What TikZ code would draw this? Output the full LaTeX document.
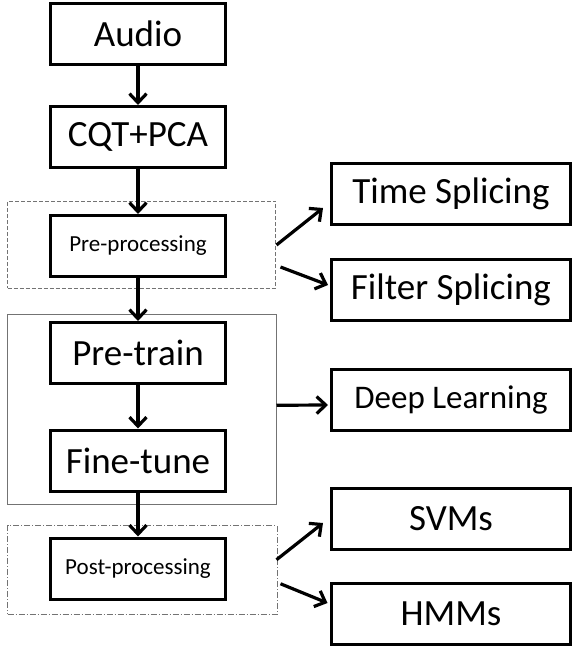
\documentclass[tikz,border=0pt]{standalone}
\usepackage{fontspec}
\setmainfont{Carlito}
\usetikzlibrary{arrows.meta,calc}
\tikzset{
  box/.style={draw=black, line width=3pt, fill=white, inner sep=0pt, minimum width=175pt, minimum height=61pt, font=\fontsize{37}{41}\selectfont},
  smallbox/.style={box, font=\fontsize{23}{27}\selectfont},
  rbox/.style={box, minimum width=239pt},
  grp/.style={draw=black!55, line width=1pt, inner sep=0pt},
  arr/.style={line width=3.2pt, -{Straight Barb[length=9pt,width=17pt]}}
}
\begin{document}
\begin{tikzpicture}[x=1pt,y=-1pt]
\useasboundingbox (0,0) rectangle (573,648);
% group boxes
\node[grp, dashed, dash pattern=on 4pt off 2pt, minimum width=268pt, minimum height=87pt] (pregrp) at (141.5,244.5) {};
\node[grp, minimum width=268.5pt, minimum height=190.5pt] (dlgrp) at (141.75,409.25) {};
\node[grp, dash pattern=on 6pt off 2pt on 1pt off 2pt, minimum width=269.5pt, minimum height=88.5pt] (postgrp) at (142.25,569.75) {};
% main chain
\node[box] (audio) at (138,34) {Audio};
\node[box] (cqt) at (138,137) {CQT+PCA};
\node[smallbox] (pre) at (138,246) {Pre-processing};
\node[box] (pretrain) at (138,353) {Pre-train};
\node[box] (finetune) at (138,460.5) {Fine-tune};
\node[smallbox] (post) at (138,568.5) {Post-processing};
% right boxes
\node[rbox] (time) at (451,194) {Time Splicing};
\node[rbox] (filter) at (451,289.5) {Filter Splicing};
\node[rbox, font=\fontsize{33}{37}\selectfont] (deep) at (451,400) {Deep Learning};
\node[rbox] (svm) at (451,519) {SVMs};
\node[rbox] (hmm) at (451,614) {HMMs};
% vertical arrows
\draw[arr] (audio.south) -- (cqt.north);
\draw[arr] (cqt.south) -- (pre.north);
\draw[arr] (pre.south) -- (pretrain.north);
\draw[arr] (pretrain.south) -- (finetune.north);
\draw[arr] (finetune.south) -- (post.north);
% side arrows
\draw[arr] ($(pregrp.east)+(0.5,0.5)$) -- ($(time.west)+(-7,14)$);
\draw[arr] ($(pregrp.east)+(4.5,22.5)$) -- ($(filter.west)+(-2,-4.5)$);
\draw[arr] ($(dlgrp.east)+(0,-4)$) -- ($(deep.west)+(-2,5)$);
\draw[arr] ($(postgrp.east)+(-1,-10)$) -- ($(svm.west)+(-7,4)$);
\draw[arr] ($(postgrp.east)+(3,14)$) -- ($(hmm.west)+(-2.5,-11)$);
\end{tikzpicture}
\end{document}
